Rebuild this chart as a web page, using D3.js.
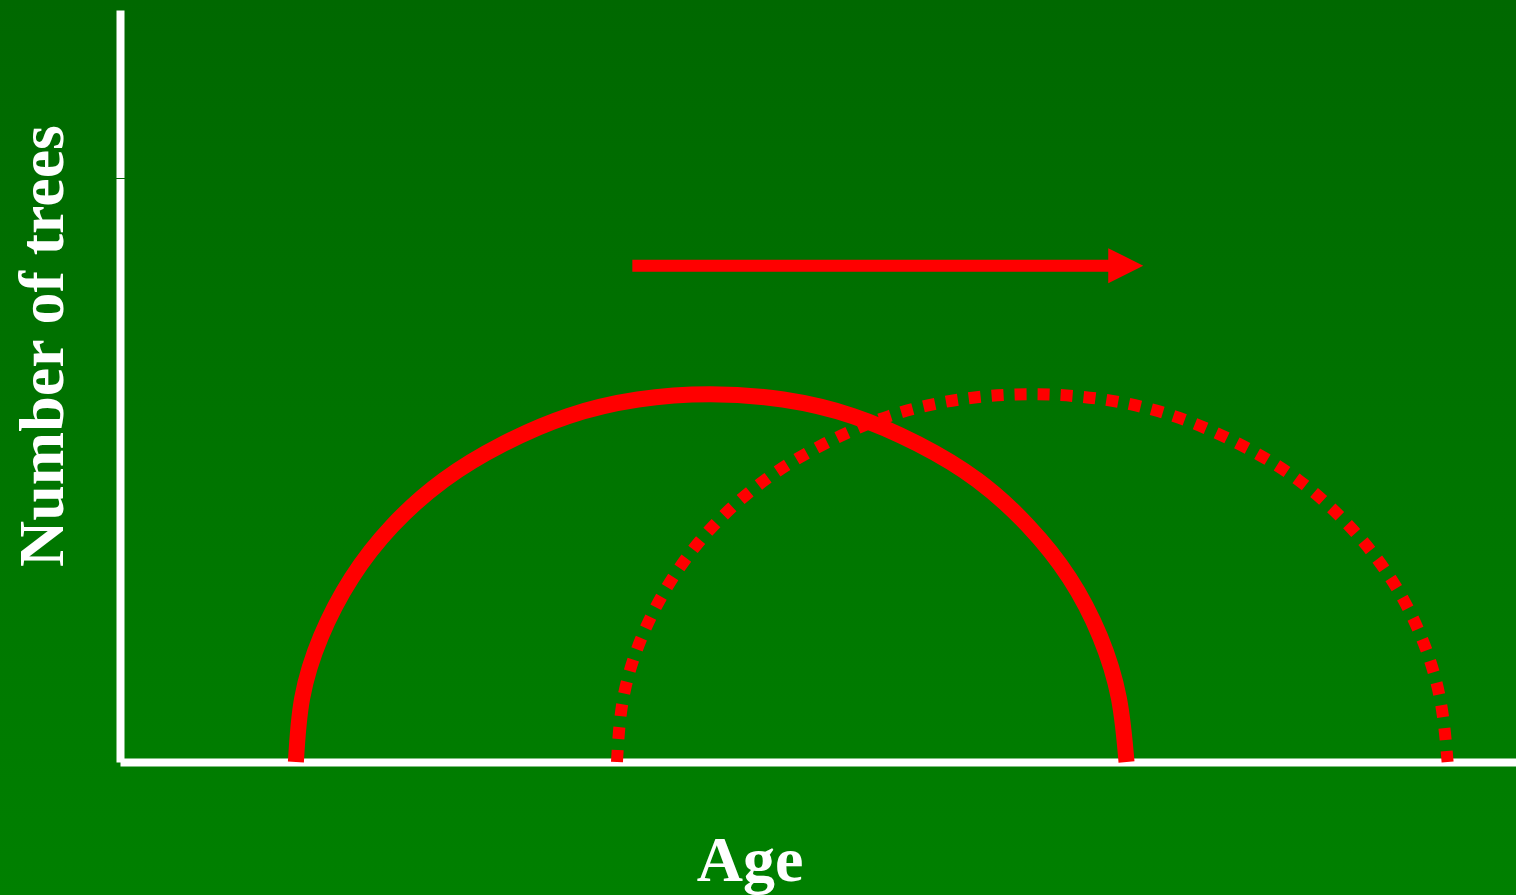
<!DOCTYPE html>
<html>
<head>
<meta charset="utf-8">
<script src="https://cdn.jsdelivr.net/npm/d3@7"></script>
<style>
  html, body { margin: 0; padding: 0; background: #007400; }
  svg { display: block; }
</style>
</head>
<body>
<svg id="chart"></svg>
<script>
// values (age units 0-100, tree counts 0-100)
const solidAge   = [12.6, 13.05, 14.4, 16.6, 19.5, 23.2, 27.45, 32.1, 37.1, 42.3, 47.5, 52.5, 57.15, 61.4, 65.05, 68.0, 70.2, 71.55, 72.1];
const solidCount = [0, 8.5, 16.7, 24.5, 31.4, 37.5, 42.3, 46.0, 48.2, 48.9, 48.2, 46.0, 42.3, 37.5, 31.4, 24.5, 16.7, 8.5, 0];

const shiftedAge   = [35.6, 36.05, 37.4, 39.6, 42.5, 46.2, 50.45, 55.1, 60.1, 65.3, 70.5, 75.5, 80.15, 84.4, 88.05, 91.0, 93.2, 94.55, 95.1];
const shiftedCount = [0, 8.5, 16.7, 24.5, 31.4, 37.5, 42.3, 46.0, 48.2, 48.9, 48.2, 46.0, 42.3, 37.5, 31.4, 24.5, 16.7, 8.5, 0];

const arrowAge   = [36.7, 73.3];
const arrowCount = [66.0, 66.0];

const yGapTick = [77.7];

const xLabel = "Age";
const yLabel = "Number of trees";

const width = 1516, height = 895;
const margin = { top: 10, right: 0, bottom: 133, left: 120 };

const svg = d3.select("#chart")
    .attr("width", width)
    .attr("height", height);

// background gradient, darker at the top
const grad = svg.append("defs").append("linearGradient")
    .attr("id", "bg")
    .attr("x1", 0).attr("y1", 0).attr("x2", 0).attr("y2", 1);
grad.append("stop").attr("offset", "0%").attr("stop-color", "#006800");
grad.append("stop").attr("offset", "100%").attr("stop-color", "#008000");

svg.append("rect")
    .attr("width", width)
    .attr("height", height)
    .attr("fill", "url(#bg)");

const x = d3.scaleLinear()
    .domain([0, 100])
    .range([margin.left, width - margin.right]);

const y = d3.scaleLinear()
    .domain([0, 100])
    .range([height - margin.bottom, margin.top]);

// axes: plain thick white lines, no ticks
const xAxisG = svg.append("g")
    .attr("transform", `translate(0,${y(0)})`)
    .call(d3.axisBottom(x).tickValues([]).tickSizeOuter(0));

const yAxisG = svg.append("g")
    .attr("transform", `translate(${x(0)},0)`)
    .call(d3.axisLeft(y).tickValues([]).tickSizeOuter(0));

xAxisG.select(".domain").attr("stroke", "#fff").attr("stroke-width", 8);
yAxisG.select(".domain").attr("stroke", "#fff").attr("stroke-width", 8);

// thin gap in the y axis
svg.selectAll(".gap")
    .data(yGapTick)
    .join("line")
    .attr("class", "gap")
    .attr("x1", x(0) - 5).attr("x2", x(0) + 5)
    .attr("y1", d => Math.round(y(d)) + 0.5)
    .attr("y2", d => Math.round(y(d)) + 0.5)
    .attr("stroke", "#006b00")
    .attr("stroke-width", 1);

const line = d3.line()
    .x(d => x(d[0]))
    .y(d => y(d[1]))
    .curve(d3.curveNatural);

const solidPts = solidAge.map((a, i) => [a, solidCount[i]]);
const shiftedPts = shiftedAge.map((a, i) => [a, shiftedCount[i]]);

svg.append("path")
    .datum(solidPts)
    .attr("d", line)
    .attr("fill", "none")
    .attr("stroke", "#ff0000")
    .attr("stroke-width", 16)
    .attr("stroke-linecap", "butt");

svg.append("path")
    .datum(shiftedPts)
    .attr("d", line)
    .attr("fill", "none")
    .attr("stroke", "#ff0000")
    .attr("stroke-width", 12)
    .attr("stroke-dasharray", "12,11")
    .attr("stroke-linecap", "butt");

// arrow pointing right
const headLen = 35, headHalf = 17.5;
const ax0 = x(arrowAge[0]), ax1 = x(arrowAge[1]), ay = y(arrowCount[0]);

svg.append("line")
    .attr("x1", ax0).attr("x2", ax1 - headLen + 1)
    .attr("y1", ay).attr("y2", ay)
    .attr("stroke", "#ff0000")
    .attr("stroke-width", 12);

svg.append("path")
    .attr("d", `M${ax1 - headLen},${ay - headHalf}L${ax1},${ay}L${ax1 - headLen},${ay + headHalf}Z`)
    .attr("fill", "#ff0000");

// labels
svg.append("text")
    .attr("x", 750)
    .attr("y", 881)
    .attr("text-anchor", "middle")
    .attr("font-family", "'Liberation Serif', 'Times New Roman', serif")
    .attr("font-weight", "bold")
    .attr("font-size", 64)
    .attr("fill", "#fff")
    .text(xLabel);

svg.append("text")
    .attr("transform", "translate(63,346) rotate(-90)")
    .attr("text-anchor", "middle")
    .attr("font-family", "'Liberation Serif', 'Times New Roman', serif")
    .attr("font-weight", "bold")
    .attr("font-size", 64)
    .attr("fill", "#fff")
    .text(yLabel);
</script>
</body>
</html>
